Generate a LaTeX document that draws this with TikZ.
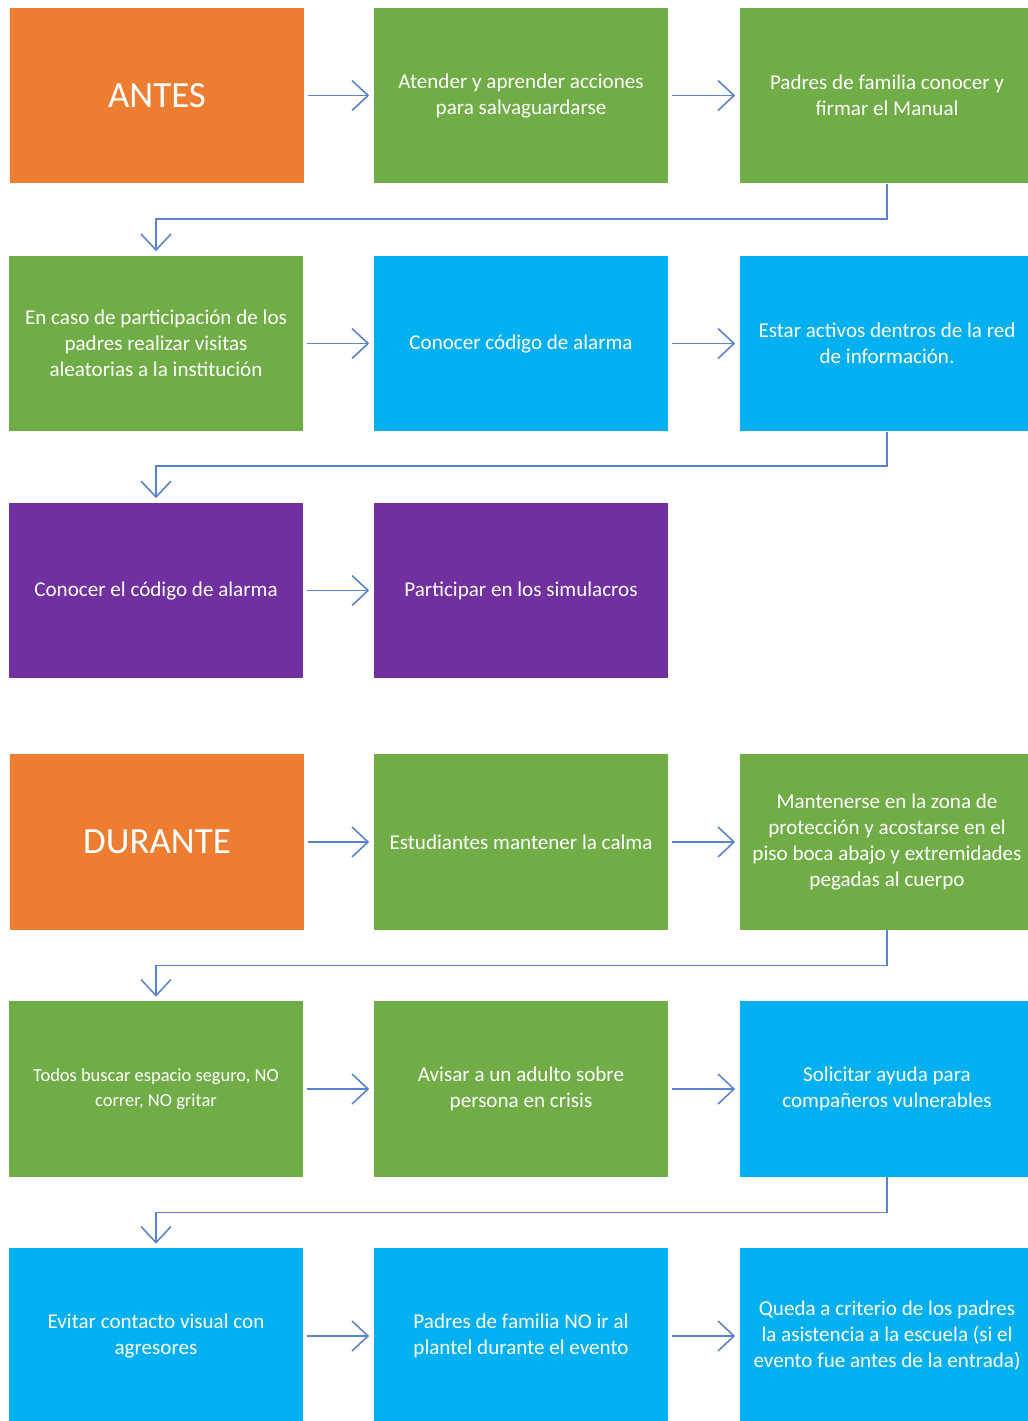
\documentclass[tikz,border=0pt]{standalone}
\usepackage{fontspec}
\setmainfont{Carlito}
\usepackage{xcolor}
\usepackage{tikz}
\usetikzlibrary{arrows.meta}

\definecolor{naranja}{HTML}{ED7D31}
\definecolor{verde}{HTML}{70AD47}
\definecolor{azul}{HTML}{00B0F0}
\definecolor{morado}{HTML}{7030A0}
\definecolor{flecha}{HTML}{5B82CC}

\begin{document}
\begin{tikzpicture}[
        x=0.02cm, y=-0.02cm,
        >={Straight Barb[length=0.32cm, width=0.6cm]},
        base/.style={align=center, text=white, font=\fontsize{12}{14.8}\selectfont, minimum width=5.9cm, minimum height=3.52cm, inner sep=0pt},
        etapa/.style={base, fill=naranja, font=\fontsize{21}{25}\selectfont},
        paso/.style={base, fill=verde},
        info/.style={base, fill=azul},
        simul/.style={base, fill=morado},
        arrow/.style={->, line width=0.9pt, draw=flecha, shorten <=0.06cm, shorten >=0.08cm},
        codo/.style={->, line width=0.9pt, draw=flecha, shorten >=0.08cm}
    ]
        \useasboundingbox (0,0) rectangle (1028,1421);
        \clip (0,0) rectangle (1028,1421);

        % ANTES
        \node[etapa] (antes) at (157, 95.5) {ANTES};
        \node[paso] (atender) at (521, 95.5) {Atender y aprender acciones\\para salvaguardarse};
        \node[paso] (firmar) at (887, 95.5) {Padres de familia conocer y\\firmar el Manual};

        \node[paso] (visitas) at (156, 343.5) {En caso de participación de los\\padres realizar visitas\\aleatorias a la institución};
        \node[info] (codigo) at (521, 343.5) {Conocer código de alarma};
        \node[info] (red) at (887, 343.5) {Estar activos dentros de la red\\de información.};

        \node[simul] (alarma) at (156, 590.5) {Conocer el código de alarma};
        \node[simul] (simulacros) at (521, 590.5) {Participar en los simulacros};

        % DURANTE
        \node[etapa] (durante) at (157, 842) {DURANTE};
        \node[paso] (calma) at (521, 842) {Estudiantes mantener la calma};
        \node[paso] (zona) at (887, 842) {Mantenerse en la zona de\\protección y acostarse en el\\piso boca abajo y extremidades\\pegadas al cuerpo};

        \node[paso, font=\fontsize{10.5}{14.2}\selectfont] (seguro) at (156, 1089) {Todos buscar espacio seguro, NO\\correr, NO gritar};
        \node[paso] (avisar) at (521, 1089) {Avisar a un adulto sobre\\persona en crisis};
        \node[info] (ayuda) at (887, 1089) {Solicitar ayuda para\\compañeros vulnerables};

        \node[info] (evitar) at (156, 1336) {Evitar contacto visual con\\agresores};
        \node[info] (plantel) at (521, 1336) {Padres de familia NO ir al\\plantel durante el evento};
        \node[info] (criterio) at (887, 1336) {Queda a criterio de los padres\\la asistencia a la escuela (si el\\evento fue antes de la entrada)};

        \draw[arrow] (antes) -- (atender);
        \draw[arrow] (atender) -- (firmar);
        \draw[codo] (firmar.south) -- ++(0,35) -| (visitas.north);
        \draw[arrow] (visitas) -- (codigo);
        \draw[arrow] (codigo) -- (red);
        \draw[codo] (red.south) -- ++(0,34) -| (alarma.north);
        \draw[arrow] (alarma) -- (simulacros);

        \draw[arrow] (durante) -- (calma);
        \draw[arrow] (calma) -- (zona);
        \draw[codo] (zona.south) -- ++(0,35) -| (seguro.north);
        \draw[arrow] (seguro) -- (avisar);
        \draw[arrow] (avisar) -- (ayuda);
        \draw[codo] (ayuda.south) -- ++(0,35) -| (evitar.north);
        \draw[arrow] (evitar) -- (plantel);
        \draw[arrow] (plantel) -- (criterio);

    \end{tikzpicture}
\end{document}
